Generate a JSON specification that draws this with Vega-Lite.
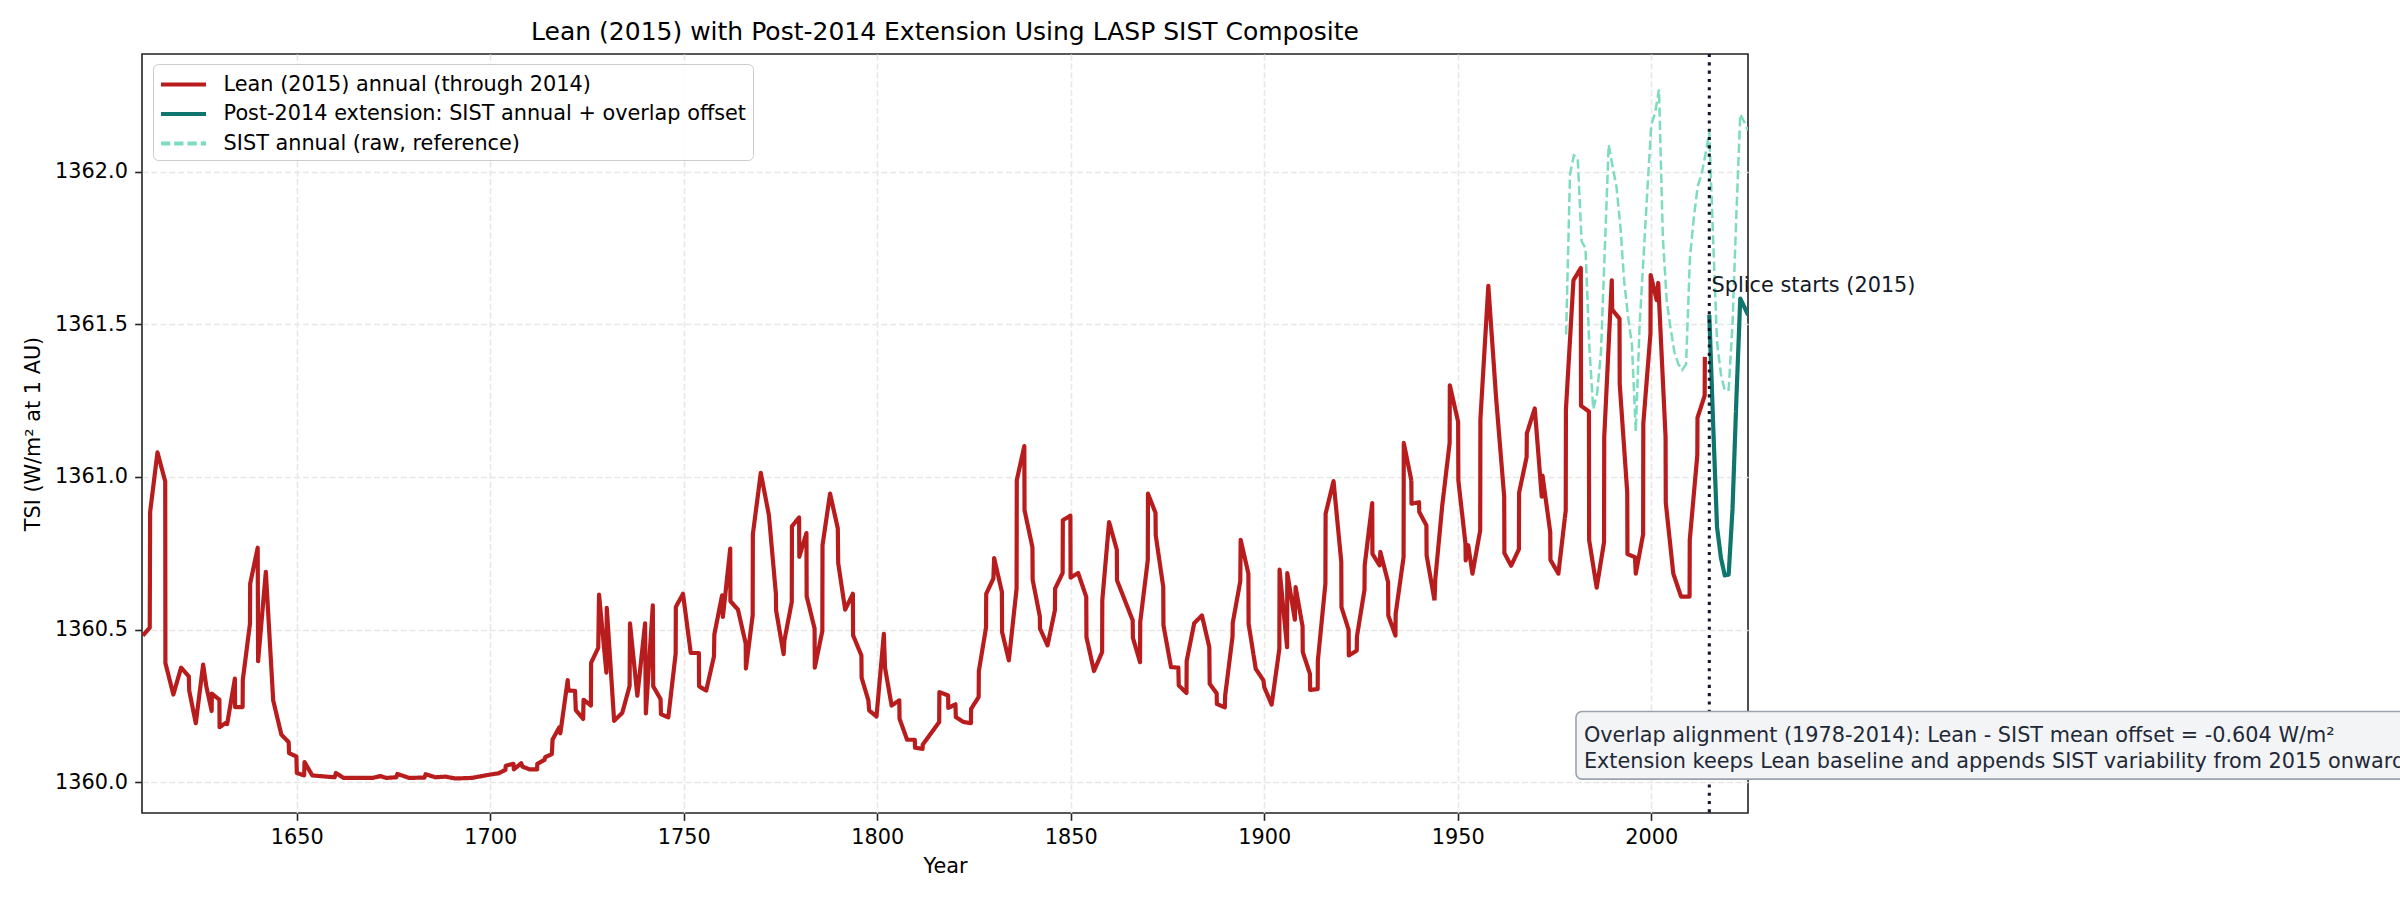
{
  "$schema": "https://vega.github.io/schema/vega-lite/v6.json",
  "width": 1606,
  "height": 759,
  "autosize": {"type": "none"},
  "padding": {"left": 142, "top": 54, "right": 652, "bottom": 87},
  "background": "white",
  "title": {"text": "Lean (2015) with Post-2014 Extension Using LASP SIST Composite", "font": "DejaVu Sans", "fontSize": 25, "fontWeight": "normal", "color": "black", "anchor": "middle", "baseline": "alphabetic", "offset": 12.5, "dy": 25},
  "datasets": {
    "sist": [
      {"year": 1978, "tsi": 1361.466}, {"year": 1979, "tsi": 1361.991}, {"year": 1980, "tsi": 1362.053}, {"year": 1981, "tsi": 1362.043},
      {"year": 1982, "tsi": 1361.771}, {"year": 1983, "tsi": 1361.75}, {"year": 1984, "tsi": 1361.427}, {"year": 1985, "tsi": 1361.222},
      {"year": 1986, "tsi": 1361.272}, {"year": 1987, "tsi": 1361.408}, {"year": 1988, "tsi": 1361.745}, {"year": 1989, "tsi": 1362.088},
      {"year": 1990, "tsi": 1362.017}, {"year": 1991, "tsi": 1361.952}, {"year": 1992, "tsi": 1361.823}, {"year": 1993, "tsi": 1361.641},
      {"year": 1994, "tsi": 1361.525}, {"year": 1995, "tsi": 1361.434}, {"year": 1996, "tsi": 1361.149}, {"year": 1997, "tsi": 1361.499},
      {"year": 1998, "tsi": 1361.719}, {"year": 1999, "tsi": 1361.939}, {"year": 2000, "tsi": 1362.153}, {"year": 2001, "tsi": 1362.192},
      {"year": 2002, "tsi": 1362.269}, {"year": 2003, "tsi": 1361.784}, {"year": 2004, "tsi": 1361.576}, {"year": 2005, "tsi": 1361.486},
      {"year": 2006, "tsi": 1361.408}, {"year": 2007, "tsi": 1361.369}, {"year": 2008, "tsi": 1361.35}, {"year": 2009, "tsi": 1361.369},
      {"year": 2010, "tsi": 1361.719}, {"year": 2011, "tsi": 1361.848}, {"year": 2012, "tsi": 1361.952}, {"year": 2013, "tsi": 1361.991},
      {"year": 2014, "tsi": 1362.056}, {"year": 2015, "tsi": 1362.13}, {"year": 2016, "tsi": 1361.775}, {"year": 2017, "tsi": 1361.44},
      {"year": 2018, "tsi": 1361.337}, {"year": 2019, "tsi": 1361.282}, {"year": 2020, "tsi": 1361.285}, {"year": 2021, "tsi": 1361.5},
      {"year": 2022, "tsi": 1361.86}, {"year": 2023, "tsi": 1362.188}, {"year": 2024, "tsi": 1362.163}, {"year": 2025, "tsi": 1362.135}
    ],
    "ext": [
      {"year": 2015, "tsi": 1361.53}, {"year": 2016, "tsi": 1361.17}, {"year": 2017, "tsi": 1360.835}, {"year": 2018, "tsi": 1360.735},
      {"year": 2019, "tsi": 1360.677}, {"year": 2020, "tsi": 1360.68}, {"year": 2021, "tsi": 1360.895}, {"year": 2022, "tsi": 1361.255},
      {"year": 2023, "tsi": 1361.584}, {"year": 2024, "tsi": 1361.558}, {"year": 2025, "tsi": 1361.53}
    ],
    "lean": [
      {"year": 1610.2, "tsi": 1360.48}, {"year": 1612.0, "tsi": 1360.506}, {"year": 1612.1, "tsi": 1360.885}, {"year": 1614.0, "tsi": 1361.08},
      {"year": 1616.0, "tsi": 1360.985}, {"year": 1616.05, "tsi": 1360.39}, {"year": 1618.1, "tsi": 1360.287}, {"year": 1620.1, "tsi": 1360.375},
      {"year": 1622.1, "tsi": 1360.346}, {"year": 1622.2, "tsi": 1360.3}, {"year": 1623.9, "tsi": 1360.193}, {"year": 1625.8, "tsi": 1360.385},
      {"year": 1626.6, "tsi": 1360.315}, {"year": 1628.0, "tsi": 1360.233}, {"year": 1628.05, "tsi": 1360.29}, {"year": 1630.0, "tsi": 1360.27},
      {"year": 1630.05, "tsi": 1360.18}, {"year": 1631.5, "tsi": 1360.193}, {"year": 1632.0, "tsi": 1360.19}, {"year": 1634.0, "tsi": 1360.339},
      {"year": 1634.05, "tsi": 1360.246}, {"year": 1636.0, "tsi": 1360.246}, {"year": 1636.05, "tsi": 1360.335}, {"year": 1637.9, "tsi": 1360.519},
      {"year": 1637.95, "tsi": 1360.65}, {"year": 1639.9, "tsi": 1360.768}, {"year": 1640.0, "tsi": 1360.396}, {"year": 1642.0, "tsi": 1360.689},
      {"year": 1643.9, "tsi": 1360.268}, {"year": 1646.0, "tsi": 1360.156}, {"year": 1647.9, "tsi": 1360.131}, {"year": 1648.0, "tsi": 1360.095},
      {"year": 1649.9, "tsi": 1360.084}, {"year": 1650.0, "tsi": 1360.03}, {"year": 1651.9, "tsi": 1360.022}, {"year": 1652.0, "tsi": 1360.066},
      {"year": 1654.0, "tsi": 1360.022}, {"year": 1659.8, "tsi": 1360.016}, {"year": 1660.1, "tsi": 1360.03}, {"year": 1662.1, "tsi": 1360.014},
      {"year": 1669.7, "tsi": 1360.014}, {"year": 1671.6, "tsi": 1360.02}, {"year": 1673.1, "tsi": 1360.014}, {"year": 1675.7, "tsi": 1360.016},
      {"year": 1676.0, "tsi": 1360.027}, {"year": 1679.0, "tsi": 1360.014}, {"year": 1683.0, "tsi": 1360.015}, {"year": 1683.3, "tsi": 1360.026},
      {"year": 1685.8, "tsi": 1360.016}, {"year": 1688.4, "tsi": 1360.018}, {"year": 1691.0, "tsi": 1360.012}, {"year": 1695.3, "tsi": 1360.014},
      {"year": 1700.0, "tsi": 1360.025}, {"year": 1702.1, "tsi": 1360.029}, {"year": 1703.9, "tsi": 1360.04}, {"year": 1704.0, "tsi": 1360.054},
      {"year": 1706.0, "tsi": 1360.06}, {"year": 1706.1, "tsi": 1360.042}, {"year": 1708.0, "tsi": 1360.062}, {"year": 1708.3, "tsi": 1360.051},
      {"year": 1710.1, "tsi": 1360.042}, {"year": 1712.1, "tsi": 1360.042}, {"year": 1712.15, "tsi": 1360.06}, {"year": 1714.0, "tsi": 1360.073},
      {"year": 1714.2, "tsi": 1360.082}, {"year": 1715.9, "tsi": 1360.092}, {"year": 1716.1, "tsi": 1360.14}, {"year": 1717.8, "tsi": 1360.179},
      {"year": 1718.1, "tsi": 1360.16}, {"year": 1720.0, "tsi": 1360.334}, {"year": 1720.2, "tsi": 1360.3}, {"year": 1721.9, "tsi": 1360.299},
      {"year": 1722.1, "tsi": 1360.236}, {"year": 1724.0, "tsi": 1360.207}, {"year": 1724.1, "tsi": 1360.27}, {"year": 1726.0, "tsi": 1360.251},
      {"year": 1726.05, "tsi": 1360.391}, {"year": 1727.9, "tsi": 1360.44}, {"year": 1728.1, "tsi": 1360.614}, {"year": 1730.0, "tsi": 1360.359},
      {"year": 1730.1, "tsi": 1360.571}, {"year": 1732.0, "tsi": 1360.201}, {"year": 1734.1, "tsi": 1360.227}, {"year": 1736.0, "tsi": 1360.315},
      {"year": 1736.1, "tsi": 1360.52}, {"year": 1738.0, "tsi": 1360.283}, {"year": 1740.0, "tsi": 1360.52}, {"year": 1740.2, "tsi": 1360.225},
      {"year": 1742.0, "tsi": 1360.579}, {"year": 1742.1, "tsi": 1360.314}, {"year": 1744.0, "tsi": 1360.272}, {"year": 1744.1, "tsi": 1360.223},
      {"year": 1746.0, "tsi": 1360.212}, {"year": 1747.9, "tsi": 1360.421}, {"year": 1747.95, "tsi": 1360.574}, {"year": 1749.8, "tsi": 1360.617},
      {"year": 1751.8, "tsi": 1360.423}, {"year": 1753.9, "tsi": 1360.423}, {"year": 1753.95, "tsi": 1360.314}, {"year": 1755.8, "tsi": 1360.3},
      {"year": 1757.8, "tsi": 1360.412}, {"year": 1757.9, "tsi": 1360.484}, {"year": 1759.9, "tsi": 1360.612}, {"year": 1760.1, "tsi": 1360.541},
      {"year": 1762.0, "tsi": 1360.765}, {"year": 1762.05, "tsi": 1360.593}, {"year": 1764.0, "tsi": 1360.565}, {"year": 1766.0, "tsi": 1360.454},
      {"year": 1766.05, "tsi": 1360.372}, {"year": 1767.8, "tsi": 1360.546}, {"year": 1767.85, "tsi": 1360.812}, {"year": 1769.9, "tsi": 1361.013},
      {"year": 1772.0, "tsi": 1360.874}, {"year": 1773.8, "tsi": 1360.617}, {"year": 1773.85, "tsi": 1360.563}, {"year": 1775.8, "tsi": 1360.419},
      {"year": 1776.0, "tsi": 1360.464}, {"year": 1777.9, "tsi": 1360.59}, {"year": 1777.95, "tsi": 1360.838}, {"year": 1779.8, "tsi": 1360.867},
      {"year": 1779.85, "tsi": 1360.738}, {"year": 1781.7, "tsi": 1360.816}, {"year": 1781.75, "tsi": 1360.609}, {"year": 1783.8, "tsi": 1360.503},
      {"year": 1783.85, "tsi": 1360.375}, {"year": 1785.8, "tsi": 1360.495}, {"year": 1785.85, "tsi": 1360.776}, {"year": 1787.8, "tsi": 1360.945},
      {"year": 1789.8, "tsi": 1360.831}, {"year": 1789.9, "tsi": 1360.718}, {"year": 1791.7, "tsi": 1360.565}, {"year": 1793.7, "tsi": 1360.617},
      {"year": 1793.75, "tsi": 1360.481}, {"year": 1795.9, "tsi": 1360.415}, {"year": 1795.95, "tsi": 1360.342}, {"year": 1797.7, "tsi": 1360.268},
      {"year": 1797.9, "tsi": 1360.235}, {"year": 1799.8, "tsi": 1360.215}, {"year": 1801.7, "tsi": 1360.486}, {"year": 1802.0, "tsi": 1360.375},
      {"year": 1803.7, "tsi": 1360.251}, {"year": 1805.7, "tsi": 1360.268}, {"year": 1805.75, "tsi": 1360.208}, {"year": 1807.7, "tsi": 1360.139},
      {"year": 1809.7, "tsi": 1360.139}, {"year": 1809.75, "tsi": 1360.113}, {"year": 1811.7, "tsi": 1360.109}, {"year": 1811.75, "tsi": 1360.123},
      {"year": 1816.0, "tsi": 1360.197}, {"year": 1816.05, "tsi": 1360.295}, {"year": 1818.3, "tsi": 1360.284}, {"year": 1818.35, "tsi": 1360.243},
      {"year": 1820.2, "tsi": 1360.255}, {"year": 1820.3, "tsi": 1360.213}, {"year": 1822.3, "tsi": 1360.197}, {"year": 1824.2, "tsi": 1360.193},
      {"year": 1824.25, "tsi": 1360.24}, {"year": 1826.2, "tsi": 1360.279}, {"year": 1826.25, "tsi": 1360.364}, {"year": 1828.1, "tsi": 1360.506},
      {"year": 1828.15, "tsi": 1360.617}, {"year": 1830.0, "tsi": 1360.667}, {"year": 1830.2, "tsi": 1360.734}, {"year": 1832.2, "tsi": 1360.623},
      {"year": 1832.25, "tsi": 1360.492}, {"year": 1834.0, "tsi": 1360.399}, {"year": 1836.0, "tsi": 1360.634}, {"year": 1836.05, "tsi": 1360.989},
      {"year": 1838.0, "tsi": 1361.101}, {"year": 1838.05, "tsi": 1360.891}, {"year": 1840.1, "tsi": 1360.769}, {"year": 1840.15, "tsi": 1360.663},
      {"year": 1842.0, "tsi": 1360.543}, {"year": 1842.05, "tsi": 1360.503}, {"year": 1844.0, "tsi": 1360.448}, {"year": 1845.9, "tsi": 1360.563},
      {"year": 1845.95, "tsi": 1360.634}, {"year": 1847.9, "tsi": 1360.685}, {"year": 1847.95, "tsi": 1360.858}, {"year": 1849.9, "tsi": 1360.873},
      {"year": 1849.95, "tsi": 1360.67}, {"year": 1851.9, "tsi": 1360.685}, {"year": 1854.0, "tsi": 1360.607}, {"year": 1854.05, "tsi": 1360.475},
      {"year": 1856.0, "tsi": 1360.364}, {"year": 1858.1, "tsi": 1360.426}, {"year": 1858.15, "tsi": 1360.596}, {"year": 1859.9, "tsi": 1360.852},
      {"year": 1861.9, "tsi": 1360.761}, {"year": 1861.95, "tsi": 1360.661}, {"year": 1863.9, "tsi": 1360.598}, {"year": 1866.0, "tsi": 1360.53},
      {"year": 1866.05, "tsi": 1360.473}, {"year": 1867.9, "tsi": 1360.393}, {"year": 1867.95, "tsi": 1360.525}, {"year": 1869.9, "tsi": 1360.727},
      {"year": 1869.95, "tsi": 1360.945}, {"year": 1871.9, "tsi": 1360.882}, {"year": 1871.95, "tsi": 1360.809}, {"year": 1873.9, "tsi": 1360.639},
      {"year": 1873.95, "tsi": 1360.514}, {"year": 1875.9, "tsi": 1360.377}, {"year": 1877.8, "tsi": 1360.375}, {"year": 1877.9, "tsi": 1360.317},
      {"year": 1879.9, "tsi": 1360.292}, {"year": 1879.95, "tsi": 1360.397}, {"year": 1881.9, "tsi": 1360.521}, {"year": 1883.9, "tsi": 1360.546},
      {"year": 1885.8, "tsi": 1360.442}, {"year": 1885.9, "tsi": 1360.322}, {"year": 1887.7, "tsi": 1360.291}, {"year": 1887.75, "tsi": 1360.256},
      {"year": 1889.8, "tsi": 1360.245}, {"year": 1889.9, "tsi": 1360.284}, {"year": 1891.8, "tsi": 1360.477}, {"year": 1891.85, "tsi": 1360.521},
      {"year": 1893.8, "tsi": 1360.658}, {"year": 1893.9, "tsi": 1360.794}, {"year": 1895.9, "tsi": 1360.683}, {"year": 1895.95, "tsi": 1360.519},
      {"year": 1897.8, "tsi": 1360.371}, {"year": 1899.8, "tsi": 1360.333}, {"year": 1900.0, "tsi": 1360.311}, {"year": 1901.9, "tsi": 1360.254},
      {"year": 1903.9, "tsi": 1360.437}, {"year": 1903.95, "tsi": 1360.696}, {"year": 1905.9, "tsi": 1360.442}, {"year": 1905.95, "tsi": 1360.685},
      {"year": 1907.9, "tsi": 1360.532}, {"year": 1908.1, "tsi": 1360.639}, {"year": 1909.9, "tsi": 1360.51}, {"year": 1909.95, "tsi": 1360.426},
      {"year": 1911.8, "tsi": 1360.355}, {"year": 1911.85, "tsi": 1360.302}, {"year": 1913.8, "tsi": 1360.305}, {"year": 1913.85, "tsi": 1360.398},
      {"year": 1915.8, "tsi": 1360.65}, {"year": 1915.85, "tsi": 1360.879}, {"year": 1917.9, "tsi": 1360.986}, {"year": 1919.9, "tsi": 1360.721},
      {"year": 1919.95, "tsi": 1360.573}, {"year": 1921.8, "tsi": 1360.499}, {"year": 1921.85, "tsi": 1360.415}, {"year": 1923.9, "tsi": 1360.431},
      {"year": 1923.95, "tsi": 1360.477}, {"year": 1925.9, "tsi": 1360.63}, {"year": 1925.95, "tsi": 1360.71}, {"year": 1927.9, "tsi": 1360.914},
      {"year": 1927.95, "tsi": 1360.748}, {"year": 1929.8, "tsi": 1360.71}, {"year": 1930.0, "tsi": 1360.754}, {"year": 1932.0, "tsi": 1360.655},
      {"year": 1932.05, "tsi": 1360.546}, {"year": 1933.9, "tsi": 1360.48}, {"year": 1933.95, "tsi": 1360.551}, {"year": 1936.0, "tsi": 1360.737},
      {"year": 1936.05, "tsi": 1361.111}, {"year": 1938.0, "tsi": 1360.989}, {"year": 1938.05, "tsi": 1360.912}, {"year": 1940.0, "tsi": 1360.917},
      {"year": 1940.05, "tsi": 1360.885}, {"year": 1941.9, "tsi": 1360.841}, {"year": 1941.95, "tsi": 1360.743}, {"year": 1944.0, "tsi": 1360.595},
      {"year": 1944.2, "tsi": 1360.666}, {"year": 1946.0, "tsi": 1360.907}, {"year": 1947.9, "tsi": 1361.111}, {"year": 1947.95, "tsi": 1361.3},
      {"year": 1950.1, "tsi": 1361.18}, {"year": 1950.15, "tsi": 1360.989}, {"year": 1952.0, "tsi": 1360.78}, {"year": 1952.05, "tsi": 1360.726},
      {"year": 1952.7, "tsi": 1360.776}, {"year": 1953.8, "tsi": 1360.683}, {"year": 1955.8, "tsi": 1360.825}, {"year": 1955.85, "tsi": 1361.188},
      {"year": 1957.9, "tsi": 1361.626}, {"year": 1959.9, "tsi": 1361.26}, {"year": 1962.0, "tsi": 1360.935}, {"year": 1962.05, "tsi": 1360.75},
      {"year": 1963.8, "tsi": 1360.709}, {"year": 1965.8, "tsi": 1360.763}, {"year": 1965.85, "tsi": 1360.948}, {"year": 1967.8, "tsi": 1361.065},
      {"year": 1967.85, "tsi": 1361.142}, {"year": 1969.9, "tsi": 1361.224}, {"year": 1971.7, "tsi": 1360.935}, {"year": 1971.9, "tsi": 1361.004},
      {"year": 1973.9, "tsi": 1360.819}, {"year": 1973.95, "tsi": 1360.728}, {"year": 1976.0, "tsi": 1360.683}, {"year": 1977.9, "tsi": 1360.89},
      {"year": 1977.95, "tsi": 1361.22}, {"year": 1979.9, "tsi": 1361.644}, {"year": 1981.8, "tsi": 1361.684}, {"year": 1981.85, "tsi": 1361.233},
      {"year": 1983.9, "tsi": 1361.214}, {"year": 1983.95, "tsi": 1360.793}, {"year": 1985.9, "tsi": 1360.637}, {"year": 1987.8, "tsi": 1360.786},
      {"year": 1987.85, "tsi": 1361.13}, {"year": 1989.8, "tsi": 1361.644}, {"year": 1989.9, "tsi": 1361.548}, {"year": 1991.8, "tsi": 1361.518},
      {"year": 1991.85, "tsi": 1361.304}, {"year": 1993.8, "tsi": 1360.948}, {"year": 1993.85, "tsi": 1360.747}, {"year": 1995.8, "tsi": 1360.737},
      {"year": 1996.0, "tsi": 1360.683}, {"year": 1997.9, "tsi": 1360.812}, {"year": 1997.95, "tsi": 1361.175}, {"year": 1999.8, "tsi": 1361.47},
      {"year": 1999.85, "tsi": 1361.661}, {"year": 2001.4, "tsi": 1361.579}, {"year": 2001.8, "tsi": 1361.635}, {"year": 2003.7, "tsi": 1361.13},
      {"year": 2003.75, "tsi": 1360.916}, {"year": 2005.7, "tsi": 1360.683}, {"year": 2007.7, "tsi": 1360.608}, {"year": 2009.9, "tsi": 1360.608},
      {"year": 2009.95, "tsi": 1360.793}, {"year": 2011.9, "tsi": 1361.071}, {"year": 2011.95, "tsi": 1361.194}, {"year": 2013.8, "tsi": 1361.266},
      {"year": 2013.85, "tsi": 1361.393}
    ],
    "notes": [{"label": "note"}]
  },
  "layer": [
    {
      "data": {"name": "sist"},
      "mark": {"type": "line", "strokeWidth": 2.5, "clip": true},
      "encoding": {
        "x": {"field": "year", "type": "quantitative", "scale": {"domain": [1610, 2025], "nice": false, "zero": false},
          "axis": {"title": "Year", "values": [1650, 1700, 1750, 1800, 1850, 1900, 1950, 2000], "format": "d", "titlePadding": 9}},
        "y": {"field": "tsi", "type": "quantitative", "scale": {"domain": [1359.899, 1362.385], "nice": false, "zero": false},
          "axis": {"title": "TSI (W/m² at 1 AU)", "values": [1360, 1360.5, 1361, 1361.5, 1362], "format": ".1f", "titlePadding": 11}},
        "color": {"datum": "SIST annual (raw, reference)", "type": "nominal",
          "scale": {"domain": ["Lean (2015) annual (through 2014)", "Post-2014 extension: SIST annual + overlap offset", "SIST annual (raw, reference)"], "range": ["#b91c1c", "#0f766e", "#7ddcc0"]},
          "legend": {"title": null}},
        "strokeDash": {"datum": "SIST annual (raw, reference)", "type": "nominal",
          "scale": {"domain": ["Lean (2015) annual (through 2014)", "Post-2014 extension: SIST annual + overlap offset", "SIST annual (raw, reference)"], "range": [[1, 0], [1, 0], [9.25, 4]]},
          "legend": {"title": null}}
      }
    },
    {
      "data": {"name": "lean"},
      "mark": {"type": "line", "strokeWidth": 4.2, "clip": true, "strokeJoin": "round"},
      "encoding": {
        "x": {"field": "year", "type": "quantitative"},
        "y": {"field": "tsi", "type": "quantitative"},
        "color": {"datum": "Lean (2015) annual (through 2014)", "type": "nominal"},
        "strokeDash": {"datum": "Lean (2015) annual (through 2014)", "type": "nominal"}
      }
    },
    {
      "data": {"name": "ext"},
      "mark": {"type": "line", "strokeWidth": 4.2, "clip": true, "strokeJoin": "round"},
      "encoding": {
        "x": {"field": "year", "type": "quantitative"},
        "y": {"field": "tsi", "type": "quantitative"},
        "color": {"datum": "Post-2014 extension: SIST annual + overlap offset", "type": "nominal"},
        "strokeDash": {"datum": "Post-2014 extension: SIST annual + overlap offset", "type": "nominal"}
      }
    },
    {
      "data": {"name": "notes"},
      "mark": {"type": "rule", "color": "#111827", "strokeWidth": 3.1, "strokeDash": [3.1, 5.2]},
      "encoding": {"x": {"datum": 2015, "type": "quantitative"}}
    },
    {
      "data": {"name": "notes"},
      "mark": {"type": "text", "text": "Splice starts (2015)", "font": "DejaVu Sans", "fontSize": 20.8, "color": "#111827", "align": "left", "baseline": "alphabetic", "clip": false},
      "encoding": {"x": {"datum": 2015.6, "type": "quantitative"}, "y": {"datum": 1361.604, "type": "quantitative"}}
    },
    {
      "data": {"name": "notes"},
      "mark": {"type": "rect", "fill": "#f3f4f6", "stroke": "#9ca3af", "strokeWidth": 1.6, "cornerRadius": 6, "clip": false},
      "encoding": {"x": {"datum": 1980.55, "type": "quantitative"}, "x2": {"datum": 2200}, "y": {"datum": 1360.2315, "type": "quantitative"}, "y2": {"datum": 1360.01}}
    },
    {
      "data": {"name": "notes"},
      "mark": {"type": "text", "text": ["Overlap alignment (1978-2014): Lean - SIST mean offset = -0.604 W/m²", "Extension keeps Lean baseline and appends SIST variability from 2015 onward"], "font": "DejaVu Sans", "fontSize": 20.8, "lineHeight": 26, "color": "#1f2937", "align": "left", "baseline": "alphabetic", "clip": false},
      "encoding": {"x": {"datum": 1982.6, "type": "quantitative"}, "y": {"datum": 1360.132, "type": "quantitative"}}
    }
  ],
  "config": {
    "font": "DejaVu Sans",
    "view": {"stroke": "#222222", "strokeWidth": 1.6},
    "axis": {"grid": true, "gridColor": "#e7e7e7", "gridDash": [6.2, 2.7], "gridWidth": 1.6, "domain": false,
      "ticks": true, "tickColor": "#222222", "tickSize": 7.3, "tickWidth": 1.6, "labelPadding": 7.3,
      "labelFont": "DejaVu Sans", "labelFontSize": 20.8, "labelColor": "black", "labelFlush": false, "labelOverlap": false,
      "titleFont": "DejaVu Sans", "titleFontSize": 20.8, "titleFontWeight": "normal", "titleColor": "black"},
    "legend": {"orient": "none", "legendX": 11, "legendY": 10, "symbolType": "M-1,0H2.6", "symbolSize": 625, "symbolStrokeWidth": 3.8,
      "labelFont": "DejaVu Sans", "labelFontSize": 20.8, "labelColor": "black", "labelOffset": 35.6, "labelLimit": 1000,
      "padding": 6, "rowPadding": 4.5, "fillColor": "rgba(255,255,255,0.85)", "strokeColor": "#cccccc", "cornerRadius": 5}
  }
}
